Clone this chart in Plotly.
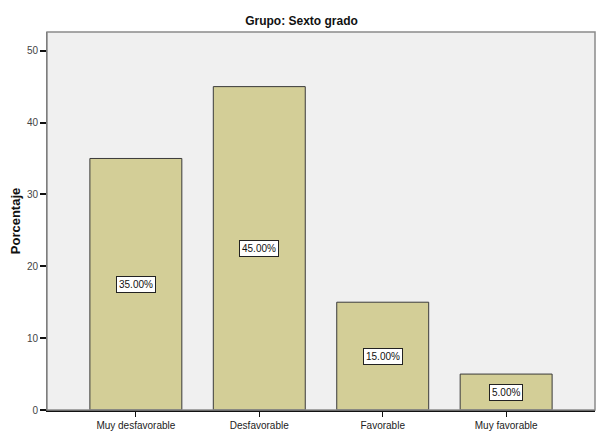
import plotly.graph_objects as go

categories = ["Muy desfavorable", "Desfavorable", "Favorable", "Muy favorable"]
values = [35, 45, 15, 5]
labels = ["35.00%", "45.00%", "15.00%", "5.00%"]
y_ticks = [0, 10, 20, 30, 40, 50]

fig = go.Figure()
fig.add_trace(go.Bar(
    x=list(range(len(categories))), y=values, width=0.745,
    marker=dict(color="#d3ce97", line=dict(color="#3a3a3a", width=1)),
    hoverinfo="skip",
))

for i, (v, lab) in enumerate(zip(values, labels)):
    fig.add_annotation(
        x=i, y=v / 2, text=lab, showarrow=False,
        font=dict(family="Liberation Sans, Arial", size=10, color="#111"),
        bgcolor="white", bordercolor="#222", borderwidth=1, borderpad=2,
    )

fig.add_shape(type="rect", xref="paper", yref="paper", x0=0, y0=0, x1=1, y1=1,
              line=dict(color="#8a8a8a", width=1.5), layer="above")

fig.update_layout(
    width=603, height=441,
    margin=dict(l=47, r=8, t=32, b=31),
    paper_bgcolor="white", plot_bgcolor="#f0f0f0",
    showlegend=False,
    title=dict(text="<b>Grupo: Sexto grado</b>", x=0.5, xanchor="center",
               y=1 - 21 / 441, yanchor="middle",
               font=dict(family="Liberation Sans Narrow, Liberation Sans, Arial", size=12, color="#111")),
    font=dict(family="Liberation Sans, Arial", size=10, color="#333"),
)
fig.update_xaxes(
    range=[-0.72, 3.72], tickmode="array", tickvals=list(range(len(categories))),
    ticktext=categories, ticks="outside", ticklen=5, tickcolor="#111", tickwidth=1,
    showgrid=False, zeroline=False, showline=True, linecolor="#111", linewidth=1.5,
    tickfont=dict(size=10, color="#222"), fixedrange=True,
)
fig.update_yaxes(
    range=[0, 52.6], tickmode="array", tickvals=y_ticks, ticks="outside", ticklen=6,
    tickcolor="#111", tickwidth=2, showgrid=False, zeroline=False,
    showline=True, linecolor="#555", linewidth=1,
    tickfont=dict(size=10, color="#444"),
    title=dict(text="<b>Porcentaje</b>", standoff=3,
               font=dict(family="Liberation Sans, Arial", size=13, color="#111")),
)

fig.write_html("out.html")
